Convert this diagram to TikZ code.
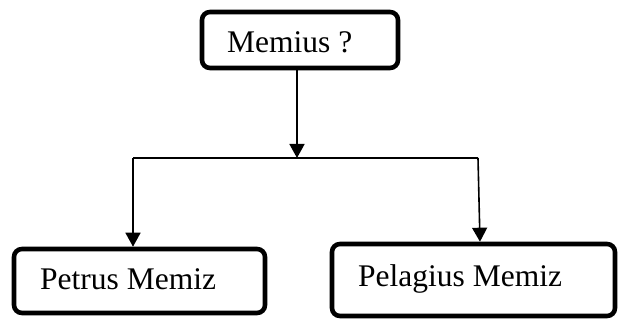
\documentclass[tikz,border=0pt]{standalone}
\usepackage{fontspec}
\setmainfont{Liberation Serif}
\usetikzlibrary{arrows.meta}
\begin{document}
\begin{tikzpicture}[x=1pt,y=-1pt,
  box/.style={draw,line width=4.6pt,rounded corners=8pt,inner sep=0pt},
  lbl/.style={anchor=base west,inner sep=0pt,font=\fontsize{31.5}{34}\selectfont},
  conn/.style={line width=1.6pt},
  arr/.style={conn,-{Triangle[width=15pt,length=14pt]}}]
\useasboundingbox (0,0) rectangle (625,320);
% boxes
\node[box,minimum width=196pt,minimum height=56pt] (top) at (300,40) {};
\node[box,minimum width=251pt,minimum height=64pt] (left) at (139.5,281) {};
\node[box,minimum width=283pt,minimum height=72pt] (right) at (473.5,280) {};
% texts
\node[lbl] (ttop) at (227,53) {Memius ?};
\node[lbl] (tleft) at (40,290) {Petrus Memiz};
\node[lbl] (tright) at (358,287) {Pelagius Memiz};
% junctions
\coordinate (j) at (297,158);
\coordinate (jl) at (133,158);
\coordinate (jr) at (478,158);
\draw[arr] (j |- top.south) -- (j);
\draw[conn] (jl) -- (jr);
\draw[arr] (jl) -- (jl |- left.north);
\draw[arr] (jr) -- ([xshift=2pt]jr |- right.north);
\end{tikzpicture}
\end{document}
